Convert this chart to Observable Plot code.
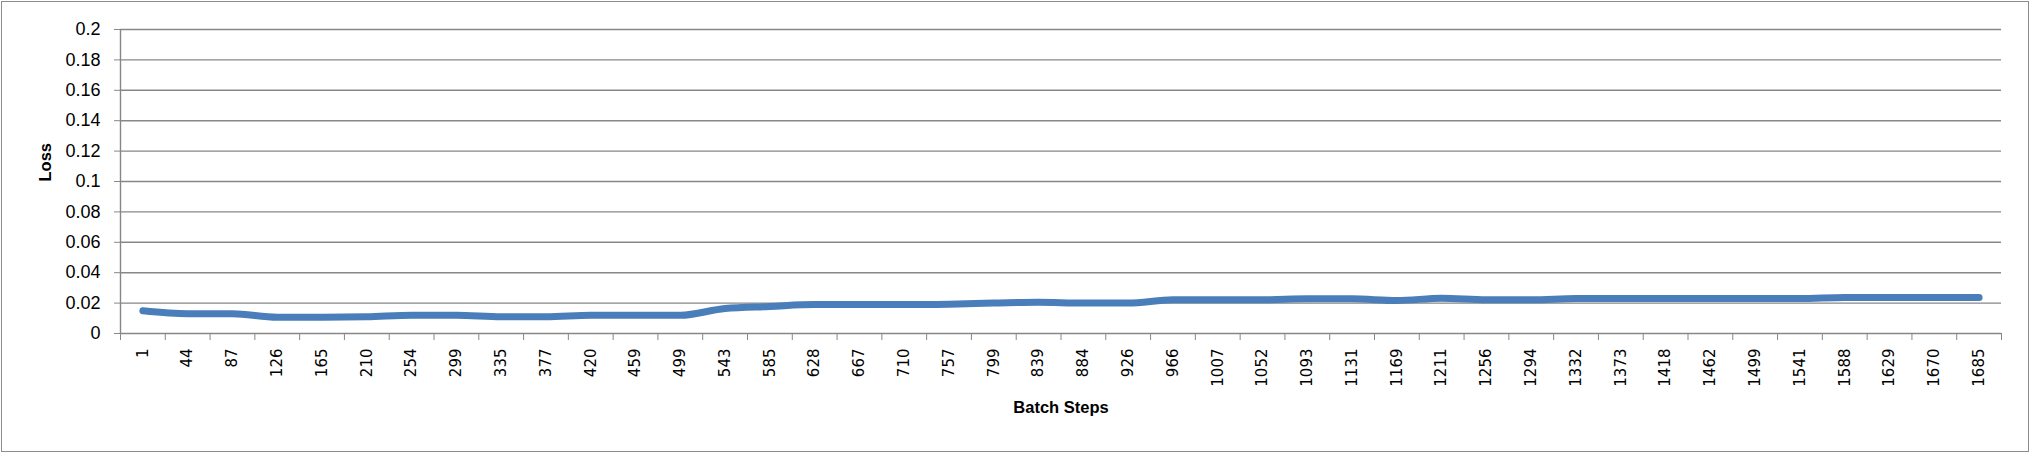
<!DOCTYPE html>
<html>
<head>
<meta charset="utf-8">
<script src="https://cdn.jsdelivr.net/npm/d3@7"></script>
<script src="https://cdn.jsdelivr.net/npm/@observablehq/plot@0.6"></script>
<style>
  html, body { margin: 0; padding: 0; background: #fff; }
  #chart svg { display: block; outline: 1.5px solid #8c8c8c; outline-offset: -2px; }
</style>
</head>
<body>
<div id="chart"></div>
<script>
const steps = ["1","44","87","126","165","210","254","299","335","377","420","459","499","543","585","628","667","710","757","799","839","884","926","966","1007","1052","1093","1131","1169","1211","1256","1294","1332","1373","1418","1462","1499","1541","1588","1629","1670","1685"];
const loss = [0.0149,0.013,0.013,0.0107,0.0107,0.011,0.012,0.012,0.011,0.011,0.012,0.012,0.012,0.0165,0.0178,0.019,0.019,0.019,0.0193,0.02,0.0206,0.02,0.02,0.0222,0.0222,0.0222,0.0228,0.0228,0.0217,0.0232,0.0222,0.0222,0.023,0.023,0.023,0.023,0.023,0.023,0.0237,0.0237,0.0237,0.0237];
const yTicks = [0,0.02,0.04,0.06,0.08,0.1,0.12,0.14,0.16,0.18,0.2];
const yTitle = "Loss";
const xTitle = "Batch Steps";
</script>
<script>
const n = steps.length;
const data = steps.map((s, i) => ({i: i + 0.5, step: s, loss: loss[i]}));
const fmtY = d => String(+d.toFixed(2));

const chart = Plot.plot({
  width: 2030,
  height: 453,
  marginLeft: 120,
  marginRight: 29,
  marginTop: 29,
  marginBottom: 120,
  style: {background: "#fff"},
  x: {type: "linear", domain: [0, n]},
  y: {type: "linear", domain: [0, 0.2]},
  marks: [
    Plot.gridY(yTicks, {stroke: "#878787", strokeOpacity: 1, strokeWidth: 1.4}),
    Plot.ruleX([0], {stroke: "#878787", strokeWidth: 1.4}),
    Plot.axisY({ticks: yTicks, tickFormat: fmtY, tickSize: 6, tickPadding: 14, stroke: "#878787",
      fontSize: 18, fontFamily: "Liberation Sans, Arial, sans-serif", fill: "#000", label: null}),
    Plot.axisX({ticks: d3.range(n + 1), tickFormat: () => "", tickSize: 7, stroke: "#878787", label: null}),
    Plot.axisX({ticks: data.map(d => d.i), tickFormat: v => steps[Math.round(v - 0.5)], tickSize: 0,
      tickPadding: 15, tickRotate: -90, fontSize: 15, fontFamily: "DejaVu Sans, sans-serif", fill: "#000", label: null}),
    Plot.line(data, {x: "i", y: "loss", stroke: "#4a7ebb", strokeWidth: 7, curve: "monotone-x",
      strokeLinecap: "round", strokeLinejoin: "round"}),
    Plot.text([yTitle], {frameAnchor: "left", dx: -75, rotate: -90, fontSize: 16.5, fontWeight: "bold",
      fontFamily: "Liberation Sans, Arial, sans-serif", fill: "#000"}),
    Plot.text([xTitle], {frameAnchor: "bottom", dy: 79, fontSize: 16.5, fontWeight: "bold",
      fontFamily: "Liberation Sans, Arial, sans-serif", fill: "#000"})
  ]
});
document.getElementById("chart").appendChild(chart);
</script>
</body>
</html>
